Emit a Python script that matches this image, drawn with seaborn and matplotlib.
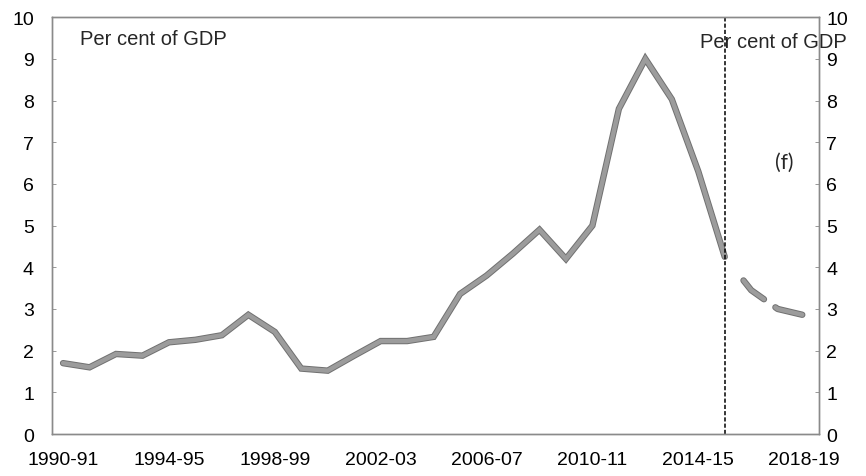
import matplotlib
matplotlib.use("Agg")
import matplotlib.pyplot as plt
import matplotlib.patheffects as pe
import seaborn as sns
import pandas as pd
import numpy as np

# ---- data ----
years = ["1990-91", "1991-92", "1992-93", "1993-94", "1994-95", "1995-96", "1996-97",
         "1997-98", "1998-99", "1999-00", "2000-01", "2001-02", "2002-03", "2003-04",
         "2004-05", "2005-06", "2006-07", "2007-08", "2008-09", "2009-10", "2010-11",
         "2011-12", "2012-13", "2013-14", "2014-15", "2015-16", "2016-17", "2017-18",
         "2018-19"]
actual = [1.70, 1.60, 1.92, 1.88, 2.20, 2.26, 2.37, 2.86, 2.45, 1.57,
          1.52, 1.88, 2.23, 2.23, 2.33, 3.36, 3.80, 4.33, 4.90, 4.20,
          5.00, 7.80, 9.00, 8.03, 6.30, 4.25]
forecast_years = ["2015-16", "2016-17", "2017-18", "2018-19"]
forecast = [4.25, 3.45, 3.00, 2.85]
tick_labels = ["1990-91", "1994-95", "1998-99", "2002-03", "2006-07", "2010-11",
               "2014-15", "2018-19"]
yticks = [0, 1, 2, 3, 4, 5, 6, 7, 8, 9, 10]

pos = {y: i for i, y in enumerate(years)}
df_a = pd.DataFrame({"x": [pos[y] for y in years[:len(actual)]], "v": actual})
df_f = pd.DataFrame({"x": [pos[y] for y in forecast_years], "v": forecast})

sns.set_style("white")
plt.rcParams["font.family"] = ["Liberation Sans", "DejaVu Sans"]
plt.rcParams["lines.scale_dashes"] = False

fig = plt.figure(figsize=(8.66, 4.77), dpi=100)
ax = fig.add_axes([0.060, 0.088, 0.886, 0.874])

line_col = "#9c9c9c"
edge = [pe.Stroke(linewidth=4.6, foreground="#707070"), pe.Normal()]

sns.lineplot(data=df_a, x="x", y="v", ax=ax, color=line_col, linewidth=3.2,
             solid_joinstyle="miter", path_effects=edge)
sns.lineplot(data=df_f, x="x", y="v", ax=ax, color=line_col, linewidth=3.2,
             linestyle=(57.6, (20.2, 10.1, 20.2, 28.8)), dash_capstyle="round",
             path_effects=edge)

ax.axvline(pos["2015-16"], color="black", linewidth=1.1, linestyle=(0, (3, 1.5)))

ax.set_xlim(-0.42, 28.57)
ax.set_ylim(0, 10)
ax.set_xticks([pos[t] for t in tick_labels])
ax.set_xticklabels(tick_labels)
ax.set_yticks(yticks)
ax.set_yticklabels([str(t) for t in yticks])
ax.set_xlabel("")
ax.set_ylabel("")

ax.tick_params(axis="x", length=0, pad=12, labelsize=14, colors="black")
ax.tick_params(axis="y", direction="in", length=3, width=0.6, color="#888888",
               pad=13, labelsize=14, labelcolor="black")

ax2 = ax.twinx()
ax2.set_ylim(0, 10)
ax2.set_yticks(yticks)
ax2.set_yticklabels([str(t) for t in yticks])
ax2.tick_params(axis="y", direction="in", length=3, width=0.6, color="#888888",
                pad=5, labelsize=14, labelcolor="black")

for a in (ax, ax2):
    for s in a.spines.values():
        s.set_visible(True)
        s.set_color("#8a8a8a")
        s.set_linewidth(1.0)

ax.text(0.037, 0.948, "Per cent of GDP", transform=ax.transAxes, fontsize=14.5,
        ha="left", va="center")
ax.text(1.036, 0.942, "Per cent of GDP", transform=ax.transAxes, fontsize=14.5,
        ha="right", va="center")
ax.text(0.955, 0.652, "(f)", transform=ax.transAxes, fontsize=15,
        ha="center", va="center", family=["Lato", "DejaVu Sans"])

fig.savefig("out.png", dpi=100)
